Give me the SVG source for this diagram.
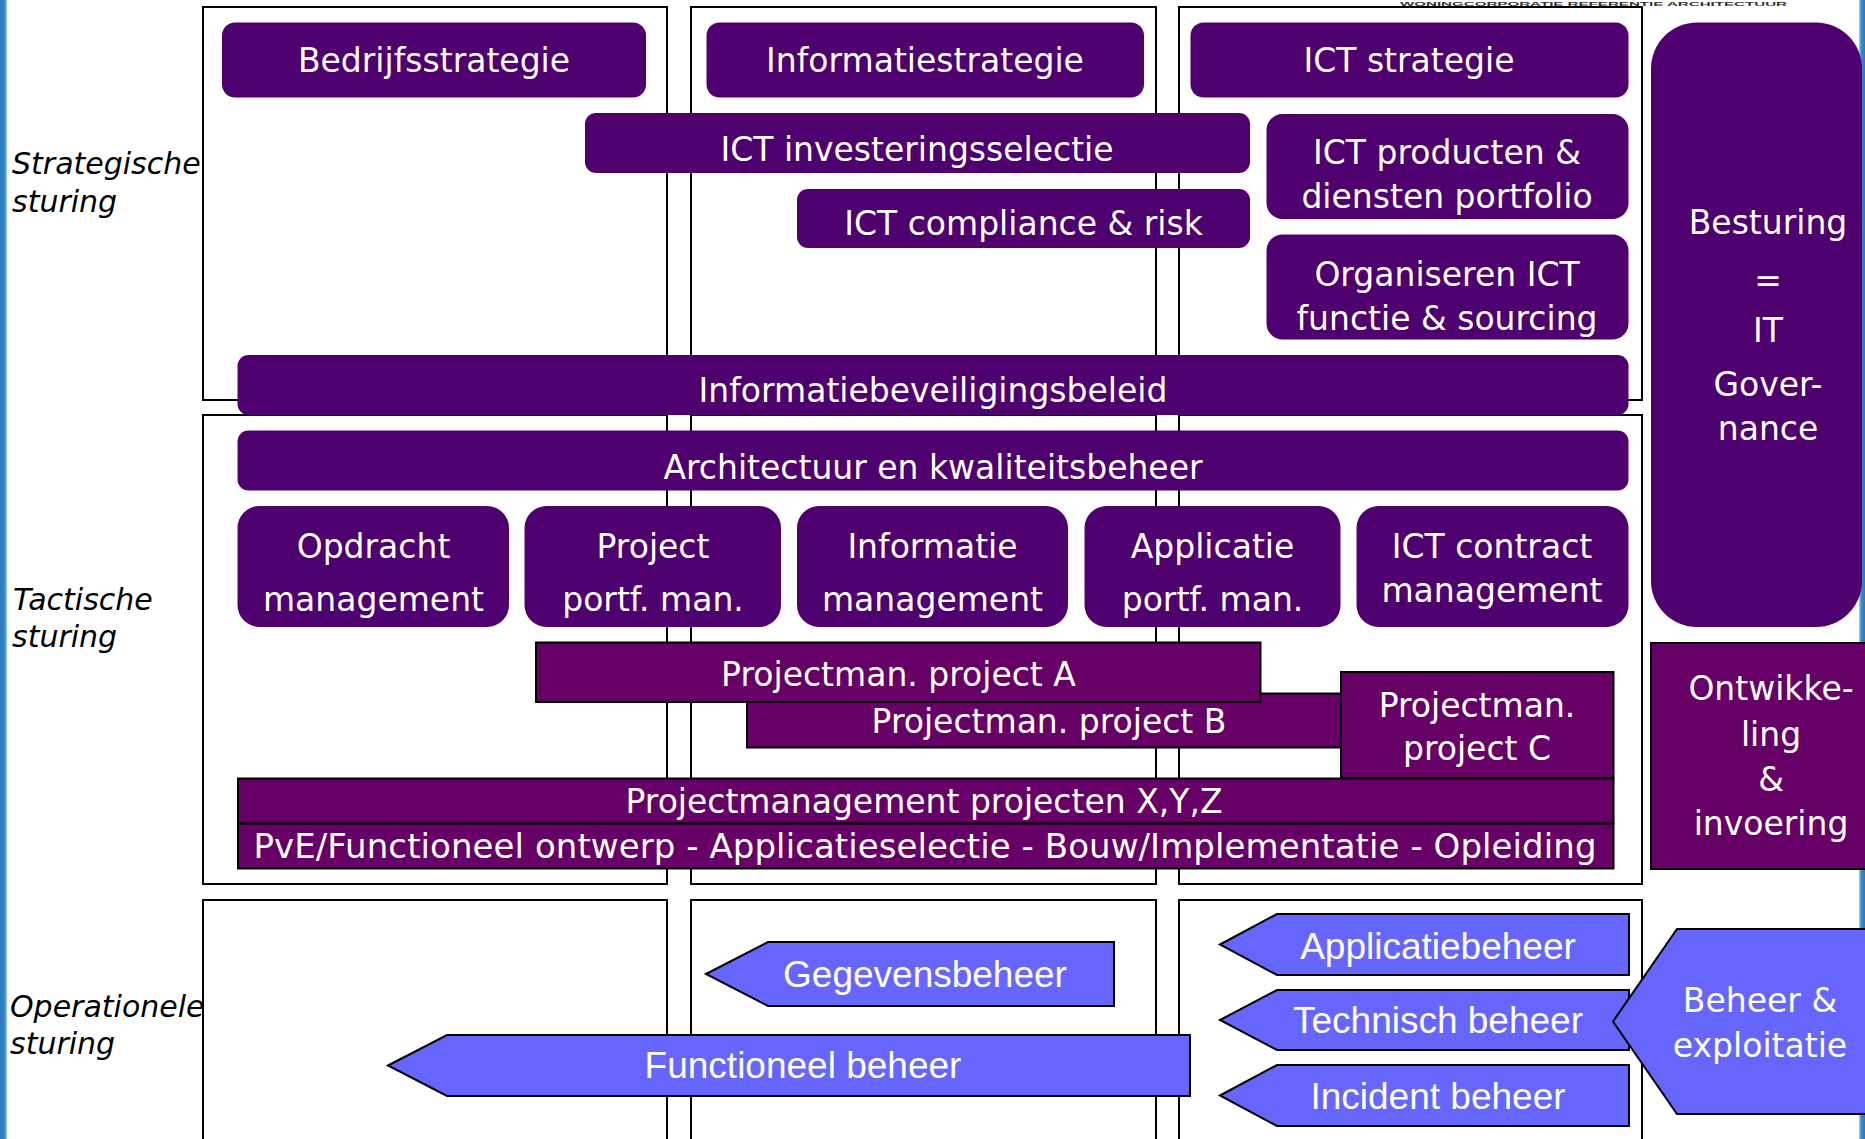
<svg xmlns="http://www.w3.org/2000/svg" width="1865" height="1139" viewBox="0 0 1865 1139">
<defs>
<linearGradient id="stripeL" x1="0" y1="0" x2="1" y2="0">
<stop offset="0" stop-color="#2a78b8"/><stop offset="0.7" stop-color="#3a8ccc"/><stop offset="1" stop-color="#a9cdea"/>
</linearGradient>
<linearGradient id="stripeR" x1="0" y1="0" x2="1" y2="0">
<stop offset="0" stop-color="#a9cdea"/><stop offset="0.4" stop-color="#3a8ccc"/><stop offset="1" stop-color="#2a78b8"/>
</linearGradient>
<style>
.frame{fill:none;stroke:#000;stroke-width:2}
.box{fill:#4E006E}
.proj{fill:#660066;stroke:#000;stroke-width:2}
.arr{fill:#6666FF;stroke:#000;stroke-width:2}
.t{font-family:"DejaVu Sans",Verdana,sans-serif;font-size:33px;fill:#fff;text-anchor:middle}
.ta{font-family:"Liberation Sans",Arial,sans-serif;font-size:37px;fill:#fff;text-anchor:middle}
.lbl{font-family:"DejaVu Sans",Verdana,sans-serif;font-size:30px;font-style:italic;fill:#000}
</style>
</defs>
<rect x="0" y="0" width="1865" height="1139" fill="#fff"/>
<rect x="0" y="0" width="7" height="1139" fill="url(#stripeL)"/>
<rect x="1859" y="0" width="6" height="1139" fill="url(#stripeR)"/>
<text x="1400" y="5.5" textLength="387" lengthAdjust="spacingAndGlyphs" style="font-family:'Liberation Sans',Arial,sans-serif;font-weight:bold;font-size:6px;fill:#333">WONINGCORPORATIE REFERENTIE ARCHITECTUUR</text>

<g id="labels">
<text class="lbl" x="12" y="174">Strategische</text>
<text class="lbl" x="12" y="212">sturing</text>
<text class="lbl" x="13" y="610">Tactische</text>
<text class="lbl" x="12" y="647">sturing</text>
<text class="lbl" x="10" y="1017">Operationele</text>
<text class="lbl" x="10" y="1054">sturing</text>
</g>

<g id="frames">
<rect class="frame" x="203" y="7" width="464" height="393"/>
<rect class="frame" x="691" y="7" width="465" height="393"/>
<rect class="frame" x="1179" y="7" width="463" height="393"/>
<rect class="frame" x="203" y="415" width="464" height="469"/>
<rect class="frame" x="691" y="415" width="465" height="469"/>
<rect class="frame" x="1179" y="415" width="463" height="469"/>
<rect class="frame" x="203" y="900" width="464" height="260"/>
<rect class="frame" x="691" y="900" width="465" height="260"/>
<rect class="frame" x="1179" y="900" width="463" height="260"/>
</g>

<g id="bedrijfsstrategie"><rect class="box" x="222" y="22.5" width="424" height="75" rx="13"/><text class="t" x="434" y="72">Bedrijfsstrategie</text></g>
<g id="informatiestrategie"><rect class="box" x="706.5" y="22.5" width="437.5" height="75" rx="13"/><text class="t" x="925" y="72">Informatiestrategie</text></g>
<g id="ict-strategie"><rect class="box" x="1190.5" y="22.5" width="438" height="75" rx="13"/><text class="t" x="1409" y="72">ICT strategie</text></g>
<g id="ict-investeringsselectie"><rect class="box" x="585" y="113" width="665" height="60" rx="11"/><text class="t" x="917" y="161">ICT investeringsselectie</text></g>
<g id="ict-compliance"><rect class="box" x="797" y="189" width="453" height="59" rx="11"/><text class="t" x="1023.5" y="235">ICT compliance &amp; risk</text></g>
<g id="ict-producten"><rect class="box" x="1266.5" y="114" width="362" height="105" rx="16"/><text class="t" x="1447" y="164">ICT producten &amp;</text><text class="t" x="1447" y="208">diensten portfolio</text></g>
<g id="organiseren-ict"><rect class="box" x="1266.5" y="234.5" width="362" height="105" rx="16"/><text class="t" x="1447" y="286">Organiseren ICT</text><text class="t" x="1447" y="330">functie &amp; sourcing</text></g>
<g id="informatiebeveiligingsbeleid"><rect class="box" x="237.5" y="355" width="1391" height="60" rx="11"/><text class="t" x="933" y="402">Informatiebeveiligingsbeleid</text></g>
<g id="besturing"><rect class="box" x="1651" y="22.5" width="211" height="604.5" rx="46"/><text class="t" x="1768" y="234">Besturing</text><text class="t" x="1768" y="292">=</text><text class="t" x="1768" y="342">IT</text><text class="t" x="1768" y="396">Gover-</text><text class="t" x="1768" y="440">nance</text></g>

<g id="architectuur"><rect class="box" x="237.5" y="430.5" width="1391" height="60" rx="11"/><text class="t" x="933" y="479">Architectuur en kwaliteitsbeheer</text></g>
<g id="opdracht-management"><rect class="box" x="237.5" y="506" width="271.5" height="121" rx="22"/><text class="t" x="373.5" y="558">Opdracht</text><text class="t" x="373.5" y="611">management</text></g>
<g id="project-portf-man"><rect class="box" x="524.5" y="506" width="256.5" height="121" rx="22"/><text class="t" x="653" y="558">Project</text><text class="t" x="653" y="611">portf. man.</text></g>
<g id="informatie-management"><rect class="box" x="797" y="506" width="271" height="121" rx="22"/><text class="t" x="932.5" y="558">Informatie</text><text class="t" x="932.5" y="611">management</text></g>
<g id="applicatie-portf-man"><rect class="box" x="1084.5" y="506" width="256" height="121" rx="22"/><text class="t" x="1212.5" y="558">Applicatie</text><text class="t" x="1212.5" y="611">portf. man.</text></g>
<g id="ict-contract-management"><rect class="box" x="1356.5" y="506" width="272" height="121" rx="22"/><text class="t" x="1492" y="558">ICT contract</text><text class="t" x="1492" y="602">management</text></g>

<g id="project-b"><rect class="proj" x="747" y="693.5" width="594" height="54"/><text class="t" x="1049" y="733">Projectman. project B</text></g>
<g id="project-a"><rect class="proj" x="536" y="642.5" width="724.5" height="59.5"/><text class="t" x="898.5" y="686">Projectman. project A</text></g>
<g id="project-c"><rect class="proj" x="1341" y="672" width="272.5" height="106"/><text class="t" x="1477" y="717">Projectman.</text><text class="t" x="1477" y="760">project C</text></g>
<g id="projecten-xyz"><rect class="proj" x="238" y="778.5" width="1375.5" height="45"/><text class="t" x="924" y="813">Projectmanagement projecten X,Y,Z</text></g>
<g id="pve"><rect class="proj" x="238" y="823.5" width="1375.5" height="45"/><text class="t" x="925" y="858" style="font-size:34px" textLength="1343" lengthAdjust="spacing">PvE/Functioneel ontwerp - Applicatieselectie - Bouw/Implementatie - Opleiding</text></g>
<g id="ontwikkeling"><rect class="proj" x="1651" y="643" width="216" height="226"/><text class="t" x="1771" y="700">Ontwikke-</text><text class="t" x="1771" y="746">ling</text><text class="t" x="1771" y="791">&amp;</text><text class="t" x="1771" y="835">invoering</text></g>

<g id="gegevensbeheer"><polygon class="arr" points="706,974 768,942 1114,942 1114,1006 768,1006"/><text class="ta" x="925" y="987">Gegevensbeheer</text></g>
<g id="functioneel-beheer"><polygon class="arr" points="388,1065.5 447,1035 1190,1035 1190,1096 447,1096"/><text class="ta" x="803" y="1078">Functioneel beheer</text></g>
<g id="applicatiebeheer"><polygon class="arr" points="1220,944.5 1277,914 1629,914 1629,975 1277,975"/><text class="ta" x="1438" y="959">Applicatiebeheer</text></g>
<g id="technisch-beheer"><polygon class="arr" points="1220,1020 1277,990 1629,990 1629,1050 1277,1050"/><text class="ta" x="1438" y="1033">Technisch beheer</text></g>
<g id="incident-beheer"><polygon class="arr" points="1220,1095.5 1277,1065 1629,1065 1629,1126 1277,1126"/><text class="ta" x="1438" y="1109">Incident beheer</text></g>
<g id="beheer-exploitatie"><polygon class="arr" points="1613,1021.5 1677,929 1867,929 1867,1114 1677,1114"/><text class="t" x="1760" y="1012">Beheer &amp;</text><text class="t" x="1760" y="1057">exploitatie</text></g>
</svg>
